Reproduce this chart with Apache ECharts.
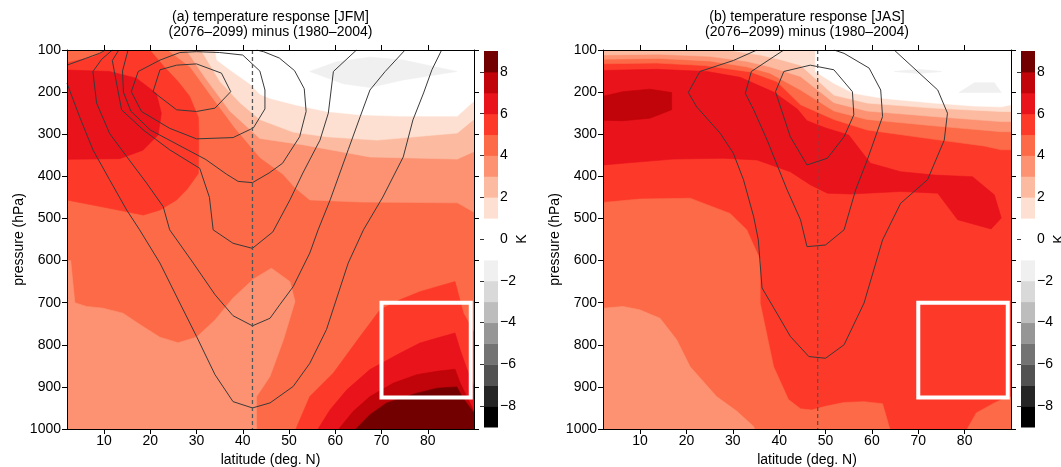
<!DOCTYPE html>
<html>
<head>
<meta charset="utf-8">
<title>temperature response</title>
<script src="https://cdn.jsdelivr.net/npm/echarts@6.0.0/dist/echarts.min.js"></script>
<style>
html,body{margin:0;padding:0;background:#ffffff;}
#chart{width:1061px;height:467px;}
</style>
</head>
<body>
<div id="chart"></div>
<script>
// ---------------- colour scale ----------------
const levelBounds = [-9,-8,-7,-6,-5,-4,-3,-2,-1,0,1,2,3,4,5,6,7,8];
const levelColors = ['#000000','#252525','#525252','#737373','#969696','#bdbdbd','#d9d9d9','#f0f0f0','#ffffff',
                     '#ffffff','#fee0d2','#fcbba1','#fc9272','#fc6a47','#fd3929','#e9131c','#c10409','#730000'];
const colorbarTicks = [-8,-6,-4,-2,0,2,4,6,8];
const colorbarUnit = 'K';
const latitudeTicks = [10,20,30,40,50,60,70,80];
const latRange = [2, 90];
const pressureRange = [100, 1000];

// ---------------- panel (a) JFM : filled regions [lat, hPa] ----------------
const a_base  = [[0,95],[92,95],[92,1005],[0,1005]];
const a_low3  = [[0,598],[2.8,600],[3.7,700],[6.2,709],[9.8,713],[14.1,725],[18.5,757],[22.1,782],[26,795],[30,782],[34,741],[37.9,689],[42.3,644],[46.2,618],[50.2,650],[51.3,697],[48.8,788],[45.9,875],[43,923],[43,1005],[0,1005]];
const a_g5    = [[0,135],[7.5,117],[12,95],[19.5,95],[23,140],[26,175],[28.5,210],[30.4,260],[30.5,300],[30.4,393],[28,430],[25.7,456],[22.1,480],[18.5,492],[11.2,476],[0,452]];
const a_g6    = [[0,147],[11.2,151],[17,167],[21.3,203],[22.4,250],[21.7,302],[18.4,338],[13.4,358],[0,360]];
const a_br5   = [[51.3,1005],[54.5,923],[59.6,867],[65.4,780],[69.7,717],[74,693],[78.3,674],[82,662],[85.9,650],[87.7,725],[92,810],[92,1005]];
const a_br6   = [[56,1005],[58.9,954],[62.5,907],[67.5,859],[74,820],[78.3,796],[82,784],[85.9,772],[87,812],[88.5,859],[90,899],[92,930],[92,1005]];
const a_br7   = [[60.4,1005],[63.9,958],[67.5,923],[72.6,891],[77.6,871],[82,863],[85.9,858],[87,891],[90,958],[92,990],[92,1005]];
const a_br8   = [[64,1005],[67.5,966],[71.1,938],[77.6,915],[82,903],[86.3,900],[87.4,923],[90,962],[92,985],[92,1005]];
const a_lt4   = [[23.2,95],[28.6,140],[32.9,205],[38.3,285],[43.7,355],[48.7,395],[51.3,427],[54.5,456],[65.4,461],[86.4,463],[89.8,484],[92,490],[92,95]];
const a_lt3   = [[27.5,95],[31.8,165],[37.2,245],[43.7,310],[53,325],[67.5,354],[86.4,359],[89.8,342],[92,335],[92,95]];
const a_lt2   = [[30.7,95],[35.1,175],[39.4,225],[43.7,265],[50.9,295],[58.2,306],[69,314],[86.4,297],[89.8,266],[92,255],[92,95]];
const a_lt1   = [[34,95],[34.4,124],[37.6,150],[41.5,180],[43.7,205],[46,215],[51.7,231],[58.2,246],[65.4,254],[74,257],[86.4,257],[89.8,223],[92,215],[92,95]];
const a_gray  = [[54.5,151],[60.3,128],[67.5,117],[74.7,124],[86.3,151],[74.7,171],[67.5,189],[61.7,180]];
const a_layers = [[4,a_base],[3,a_low3],[5,a_g5],[6,a_g6],[5,a_br5],[6,a_br6],[7,a_br7],[8,a_br8],[3,a_lt4],[2,a_lt3],[1,a_lt2],[0,a_lt1],[-2,a_gray]];

// panel (a) contour lines
const a_c1 = [[20.6,199],[22.1,147],[25.7,136],[30,133],[35.4,155],[37.4,199],[34,238],[30,246],[25.7,242],[20.6,199]];
const a_c2 = [[15.9,199],[17.4,151],[22.1,124],[26.4,106],[30,104],[35,106],[40,112],[43.7,150],[44.8,195],[44.8,240],[42.3,285],[37.9,308],[30,311],[24.2,286],[18.1,246],[15.9,199]];
const a_c3 = [[15.2,100],[14,150],[14.2,200],[15.8,245],[20,290],[26,325],[32,360],[36.5,395],[39,412],[42.1,415],[45.7,392],[48.6,369],[52.3,306],[53.7,246],[53.3,192],[51.2,149],[47.9,119],[44.5,104],[43,100]];
const a_c4 = [[13.2,100],[11.8,125],[12.3,155],[13.8,242],[18.5,290],[24.2,337],[30.7,381],[32.8,450],[33.6,527],[37.9,559],[42.1,571],[46.5,532],[50.2,456],[53,392],[56.7,314],[58.5,250],[59.6,151],[64.6,100]];
const a_c5 = [[11.8,100],[9.5,122],[7.6,151],[8.4,226],[11.2,298],[14.9,353],[19.2,416],[22.8,472],[24.2,527],[29.3,606],[34,681],[37.9,731],[42.1,755],[45.9,737],[48,705],[50.9,662],[54.5,582],[56.3,527],[58.9,456],[62.8,337],[65.4,258],[67.5,195],[70.8,151],[75.1,100]];
const a_c6 = [[2,179],[4.7,258],[7.6,337],[11.2,408],[14.9,480],[17.7,527],[22.1,606],[26.4,701],[30,780],[34,871],[37.9,935],[42.1,950],[45.9,938],[50.9,899],[54.5,844],[58.1,764],[62.8,606],[66.1,527],[70.3,449],[74.7,354],[76.8,266],[79.1,202],[80.9,147],[83,100]];
const a_c7 = [[2,136],[6,120],[9,108],[10.4,100]];
const a_contours = [a_c1,a_c2,a_c3,a_c4,a_c5,a_c6,a_c7];
const a_jetLat = 42.1;

// ---------------- panel (b) JAS ----------------
const b_base  = [[0,95],[92,95],[92,1005],[0,1005]];
const b_or    = [[0,464],[9.9,454],[20.8,452],[29.4,488],[33,527],[35.9,598],[35.9,701],[38.8,852],[42,930],[44.6,952],[47,955],[50,946],[54,937],[58.3,935],[62.3,940],[64,1005],[0,1005]];
const b_or2   = [[80.3,1005],[82.5,962],[86.4,938],[88.6,927],[92,920],[92,1005]];
const b_sal   = [[0,715],[6.3,709],[9.9,717],[14.3,737],[17.9,788],[20.8,852],[26.5,923],[30.9,958],[34.5,994],[34.8,1005],[0,1005]];
const b_g6    = [[0,149],[13.6,146],[24.4,151],[31.6,165],[38.8,200],[43.9,240],[46,268],[50,285],[55,302],[59.7,369],[66.2,389],[73.4,397],[81.7,401],[86.4,444],[87.9,499],[85.7,525],[78.5,503],[74.2,440],[66.2,436],[55.4,442],[50.4,440],[46.7,420],[42.4,389],[35.2,361],[28,357],[17.2,359],[6.3,369],[0,375]];
const b_g7    = [[0,215],[6.3,199],[12.1,193],[16.8,201],[16.8,242],[12.1,262],[6.3,268],[0,266]];
const b_lt5   = [[0,133],[13.6,131],[24,137],[33.8,152],[39.5,175],[44.6,230],[51.8,265],[59,290],[73.4,312],[84.2,328],[87.9,337],[92,337],[92,95],[0,95]];
const b_lt4   = [[0,122],[14,120],[25,126],[33,140],[38,155],[44.6,195],[51.8,245],[59,265],[73.4,280],[87.9,294],[92,294],[92,95],[0,95]];
const b_lt3   = [[0,112],[14,110],[25,115],[33,127],[38,140],[44.6,163],[51.8,225],[59,245],[73.4,258],[87.9,270],[92,270],[92,95],[0,95]];
const b_lt2   = [[22,95],[30,102],[36,112],[40,122],[44.6,136],[51.8,207],[59,226],[73.4,238],[87.9,246],[92,246],[92,95]];
const b_lt1   = [[40,95],[47.8,100],[47.8,151],[51.8,179],[56.1,203],[62.6,215],[73.4,226],[82.1,233],[87.9,235],[90,230],[92,228],[92,95]];
const b_gray1 = [[64.8,151],[70,146],[75,151],[70,156]];
const b_gray2 = [[78.8,201],[82.1,178],[86.4,178],[87.9,201]];
const b_layers = [[5,b_base],[4,b_or],[4,b_or2],[3,b_sal],[6,b_g6],[7,b_g7],[4,b_lt5],[3,b_lt4],[2,b_lt3],[1,b_lt2],[0,b_lt1],[-2,b_gray1],[-2,b_gray2]];

const b_c1 = [[41,151],[46.7,136],[51.8,147],[55.8,199],[56.1,254],[54,306],[50.4,357],[46,373],[42.4,306],[39.2,199],[41,151]];
const b_c2 = [[41,100],[34,151],[32.7,203],[34.5,242],[37.4,314],[41.7,432],[44.6,503],[46,567],[50,563],[54,527],[56.5,432],[59,361],[62.3,258],[61.9,195],[59.4,143],[54,108],[51.8,100]];
const b_c3 = [[35.2,100],[30.1,125],[22.9,151],[20.4,201],[22.2,235],[27.3,298],[30.1,345],[32.3,408],[34.5,496],[35.5,551],[36.3,665],[39.5,725],[42.4,780],[46.4,828],[50,832],[54,800],[58.3,701],[62.3,551],[66.2,464],[72,408],[75.6,314],[76.3,250],[74.2,195],[64.8,100]];
const b_contours = [b_c1,b_c2,b_c3];
const b_jetLat = 48.3;

// region box (both panels)
const boxLat = [70, 89.3];
const boxP = [700, 925];

// ---------------- chart ----------------
const FONT = '"Liberation Sans", Arial, Helvetica, sans-serif';
const colorOf = L => levelColors[levelBounds.indexOf(L)];
const chart = echarts.init(document.getElementById('chart'), null, {renderer: 'canvas'});

const plotGrids = [{left: 67, top: 50, width: 407, height: 379, outerBoundsMode: 'none', containLabel: false},
                   {left: 603, top: 50, width: 408, height: 379, outerBoundsMode: 'none', containLabel: false}];
const cbarGrids = [{left: 484, top: 51, width: 14, height: 376, outerBoundsMode: 'none', containLabel: false},
                   {left: 1021, top: 51, width: 14, height: 376, outerBoundsMode: 'none', containLabel: false}];

const grids = [plotGrids[0], cbarGrids[0], plotGrids[1], cbarGrids[1]];
const xAxes = [], yAxes = [], series = [];

function plotAxes(gi) {
  const base = {gridIndex: gi, type: 'value', z: 10, splitLine: {show: false},
    axisLine: {show: true, onZero: false, lineStyle: {color: '#000', width: 1}},
    axisTick: {show: true, inside: false, length: 5, lineStyle: {color: '#000', width: 1}}};
  const xi = xAxes.length;
  xAxes.push(Object.assign({}, base, {position: 'bottom', min: latRange[0], max: latRange[1],
    axisTick: Object.assign({}, base.axisTick, {customValues: latitudeTicks}),
    axisLabel: {customValues: latitudeTicks, fontSize: 14, color: '#000', fontFamily: FONT, margin: 5},
    name: 'latitude (deg. N)', nameLocation: 'middle', nameGap: 16,
    nameTextStyle: {fontSize: 14, color: '#000', fontFamily: FONT}}));
  xAxes.push(Object.assign({}, base, {position: 'top', min: latRange[0], max: latRange[1],
    axisTick: Object.assign({}, base.axisTick, {customValues: latitudeTicks}),
    axisLabel: {show: false}}));
  const yi = yAxes.length;
  yAxes.push(Object.assign({}, base, {position: 'left', inverse: true, min: pressureRange[0], max: pressureRange[1], interval: 100,
    axisLabel: {fontSize: 14, color: '#000', fontFamily: FONT, margin: 6, formatter: v => String(v)},
    name: 'pressure (hPa)', nameLocation: 'middle', nameGap: 40, nameRotate: 90,
    nameTextStyle: {fontSize: 14, color: '#000', fontFamily: FONT}}));
  yAxes.push(Object.assign({}, base, {position: 'right', inverse: true, min: pressureRange[0], max: pressureRange[1], interval: 100,
    axisLabel: {show: false}}));
  return [xi, yi];
}
function cbarAxes(gi) {
  const xi = xAxes.length;
  xAxes.push({gridIndex: gi, type: 'value', min: 0, max: 1, show: false});
  const yi = yAxes.length;
  yAxes.push({gridIndex: gi, type: 'value', position: 'right', min: -9, max: 9, z: 10,
    splitLine: {show: false}, axisLine: {show: false},
    axisTick: {show: true, inside: true, length: 4, customValues: colorbarTicks, lineStyle: {color: '#333'}},
    axisLabel: {customValues: colorbarTicks, fontSize: 14, color: '#000', fontFamily: FONT, margin: 2,
      formatter: v => (v < 0 ? '\u2212' + Math.abs(v) : String(v))}});
  return [xi, yi];
}

function addPanel(layers, contours, jetLat, plotGrid) {
  const gi = grids.indexOf(plotGrid);
  const [xi, yi] = plotAxes(gi);
  series.push({
    type: 'custom', xAxisIndex: xi, yAxisIndex: yi, silent: true, clip: true, z: 1,
    data: layers.map((l, i) => [Math.min(Math.max(l[1][0][0], 2.5), 89.5), Math.min(Math.max(l[1][0][1], 101), 999), i]),
    encode: {x: 0, y: 1},
    renderItem: (params, api) => {
      const lay = layers[api.value(2)];
      const cs = params.coordSys;
      const c = colorOf(lay[0]);
      return {
        type: 'group',
        clipPath: {type: 'rect', shape: {x: cs.x, y: cs.y, width: cs.width, height: cs.height}},
        children: [{type: 'polygon', shape: {points: lay[1].map(p => api.coord(p))},
          style: {fill: c, stroke: c, lineWidth: 0.6}}]
      };
    }
  });
  contours.forEach(c => series.push({
    type: 'line', xAxisIndex: xi, yAxisIndex: yi, data: c, showSymbol: false, symbol: 'none',
    silent: true, clip: true, z: 3, lineStyle: {color: '#3a3a3a', width: 1}
  }));
  series.push({
    type: 'line', xAxisIndex: xi, yAxisIndex: yi, data: [[jetLat, pressureRange[0]], [jetLat, pressureRange[1]]],
    showSymbol: false, symbol: 'none', silent: true, z: 3,
    lineStyle: {color: '#555', width: 1.3, type: [4, 3]}
  });
  series.push({
    type: 'line', xAxisIndex: xi, yAxisIndex: yi,
    data: [[boxLat[0], boxP[0]], [boxLat[1], boxP[0]], [boxLat[1], boxP[1]], [boxLat[0], boxP[1]], [boxLat[0], boxP[0]]],
    showSymbol: false, symbol: 'none', silent: true, z: 4,
    lineStyle: {color: '#ffffff', width: 4, join: 'miter', cap: 'square'}
  });
}
function addColorbar(gridObj) {
  const gi = grids.indexOf(gridObj);
  const [xi, yi] = cbarAxes(gi);
  series.push({
    type: 'custom', xAxisIndex: xi, yAxisIndex: yi, silent: true, z: 1,
    data: levelBounds.map(l => [0, l + 0.5]),
    encode: {x: 0, y: 1},
    renderItem: (params, api) => {
      const lo = api.value(1) - 0.5;
      const p0 = api.coord([0, lo + 1]);
      const p1 = api.coord([1, lo]);
      return {type: 'rect', shape: {x: p0[0], y: p0[1], width: p1[0] - p0[0], height: p1[1] - p0[1] + 0.5},
        style: {fill: colorOf(lo)}};
    }
  });
}

addPanel(a_layers, a_contours, a_jetLat, plotGrids[0]);
addColorbar(cbarGrids[0]);
addPanel(b_layers, b_contours, b_jetLat, plotGrids[1]);
addColorbar(cbarGrids[1]);

// colour-bar unit labels, placed beside each colour bar
const unitLabels = cbarGrids.map(g => ({
  type: 'text', x: g.left + g.width + 24, y: g.top + g.height / 2, rotation: Math.PI / 2, silent: true,
  style: {text: colorbarUnit, fontSize: 14, fontFamily: FONT, fill: '#000', align: 'center', verticalAlign: 'middle'}
}));

chart.setOption({
  animation: false,
  backgroundColor: '#ffffff',
  title: [
    {text: '(a) temperature response [JFM]\n(2076\u20132099) minus (1980\u20132004)', left: 270.5, top: 9, textAlign: 'center', padding: 0,
     textStyle: {fontSize: 14, fontWeight: 'normal', color: '#000', fontFamily: FONT, lineHeight: 15.5}},
    {text: '(b) temperature response [JAS]\n(2076\u20132099) minus (1980\u20132004)', left: 807, top: 9, textAlign: 'center', padding: 0,
     textStyle: {fontSize: 14, fontWeight: 'normal', color: '#000', fontFamily: FONT, lineHeight: 15.5}}
  ],
  graphic: unitLabels,
  grid: grids,
  xAxis: xAxes,
  yAxis: yAxes,
  series: series
});
</script>
</body>
</html>
